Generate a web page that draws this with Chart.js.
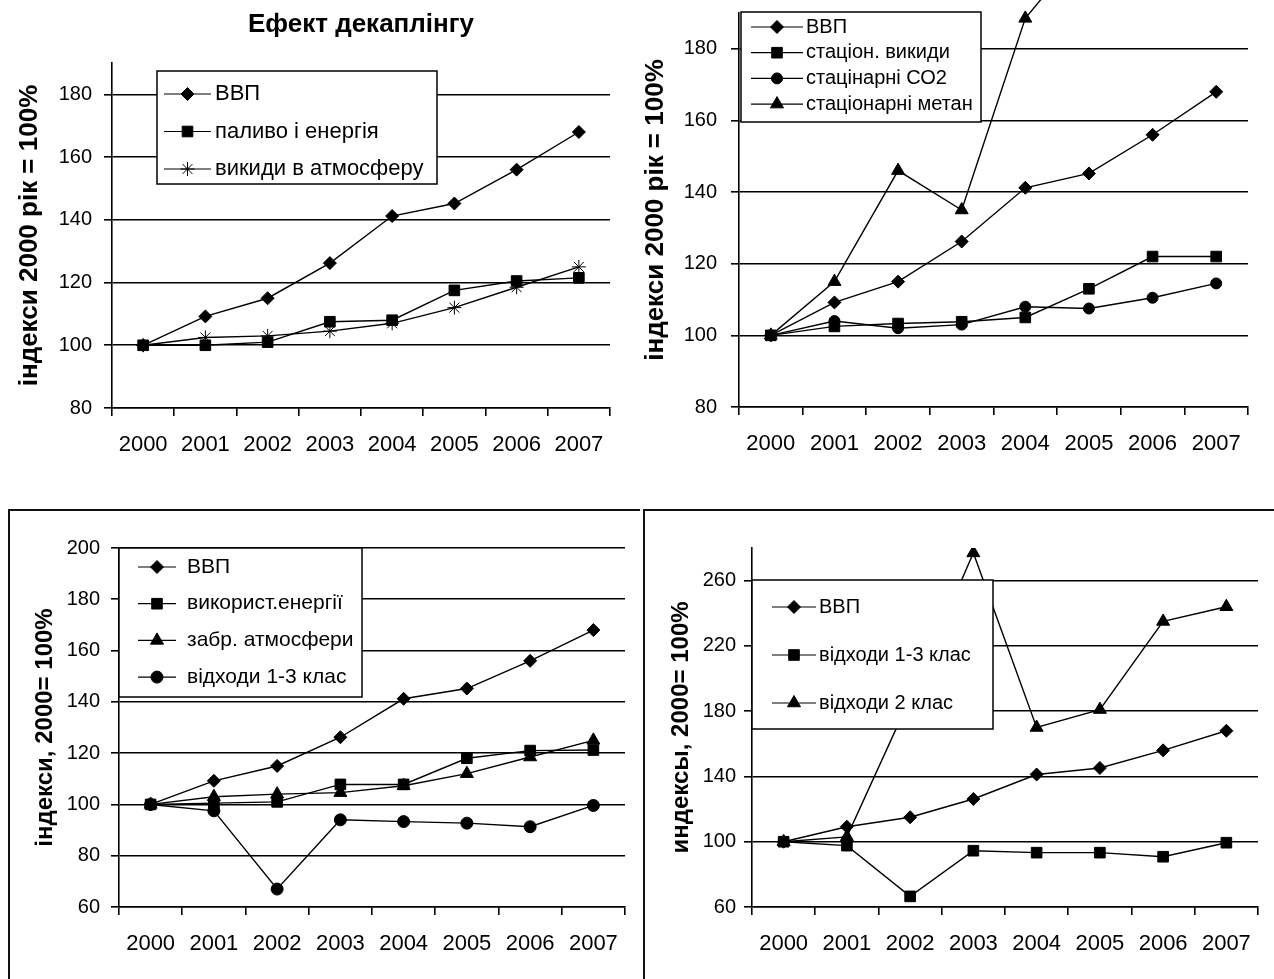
<!DOCTYPE html>
<html>
<head>
<meta charset="utf-8">
<script src="https://cdn.jsdelivr.net/npm/chart.js@4.4.1/dist/chart.umd.min.js"></script>
<style>
  body { margin: 0; background: #fff; width: 1274px; height: 979px; overflow: hidden; position: relative; }
  canvas { position: absolute; }
  .frame { position: absolute; border-top: 2px solid #111; border-left: 2px solid #111; }
</style>
</head>
<body>
<div class="frame" style="left:8px;top:509px;width:630px;height:480px"></div>
<div class="frame" style="left:643px;top:509px;width:640px;height:480px"></div>
<canvas id="c1" width="640" height="480" style="left:0;top:0"></canvas>
<canvas id="c2" width="634" height="480" style="left:640px;top:0"></canvas>
<canvas id="c3" width="640" height="479" style="left:0;top:500px"></canvas>
<canvas id="c4" width="634" height="479" style="left:640px;top:500px"></canvas>
<script>
// роки
const years = ['2000', '2001', '2002', '2003', '2004', '2005', '2006', '2007'];

// поділки осі Y
const yTicksTop = [80, 100, 120, 140, 160, 180];
const yTicks3 = [60, 80, 100, 120, 140, 160, 180, 200];
const yTicks4 = [60, 100, 140, 180, 220, 260];

// ВВП, індекс 2000 = 100
const gdp = [100, 109.2, 115, 126.2, 141.2, 145.2, 156, 168];

// графік 1
const fuelEnergy = [100, 100, 101, 107.5, 108, 117.5, 120.5, 121.5];
const airEmissions = [100, 102.5, 103, 104.5, 107, 112, 118.5, 125];

// графік 2
const statEmissions = [100, 102.5, 103.3, 103.8, 105, 113, 122, 122];
const statCO2 = [100, 104, 102, 103, 108, 107.5, 110.5, 114.5];
const statMethane = [100, 115, 146, 135, 188.5, 210, null, null];

// графік 3
const energyUse = [100, 100.5, 101, 107.8, 107.8, 118, 121, 121.2];
const airPollution = [100, 103, 104, 104.6, 107.3, 112, 118.5, 125];
const waste13 = [100, 97.5, 67, 94, 93.3, 92.7, 91.3, 99.6];

// графік 4
const waste13b = [100, 97.6, 66.5, 94.5, 93.3, 93.3, 90.8, 99.4];
const waste2 = [100, 103, 188, 277, 170, 181, 235, 244];

const FONT = "'Liberation Sans', Arial, sans-serif";
Chart.defaults.font.family = FONT;
Chart.defaults.color = '#000';

// легенда в рамці поверх ліній, як в Excel
const boxLegend = {
    id: 'boxLegend',
    afterDatasetsDraw(chart, args, o) {
        const ctx = chart.ctx;
        ctx.save();
        ctx.fillStyle = '#fff';
        ctx.strokeStyle = '#000';
        ctx.lineWidth = 1.5;
        ctx.fillRect(o.x, o.y, o.w, o.h);
        ctx.strokeRect(o.x, o.y, o.w, o.h);
        ctx.font = o.size + 'px ' + FONT;
        ctx.textBaseline = 'middle';
        chart.data.datasets.forEach((ds, i) => {
            const y = o.first + i * o.step;
            ctx.strokeStyle = '#000';
            ctx.fillStyle = '#000';
            ctx.lineWidth = 1.2;
            ctx.beginPath();
            ctx.moveTo(o.lineFrom, y);
            ctx.lineTo(o.lineTo, y);
            ctx.stroke();
            ctx.lineWidth = 1;
            Chart.helpers.drawPoint(ctx, {
                pointStyle: ds.pointStyle, radius: ds.pointRadius, rotation: 0, borderWidth: 1
            }, (o.lineFrom + o.lineTo) / 2, y);
            ctx.fillText(ds.label, o.textX, y);
        });
        ctx.restore();
    }
};

function series(label, data, style, radius) {
    return {
        label: label,
        data: data,
        borderColor: '#000',
        backgroundColor: '#000',
        borderWidth: 1.4,
        pointStyle: style,
        pointRadius: radius,
        pointBorderWidth: 1,
        pointBackgroundColor: '#000',
        pointBorderColor: '#000',
        tension: 0,
        spanGaps: false
    };
}

function makeChart(id, datasets, cfg) {
    const canvas = document.getElementById(id);
    const H = canvas.height;
    return new Chart(canvas, {
        type: 'line',
        data: { labels: years, datasets: datasets },
        options: {
            responsive: false,
            animation: false,
            layout: { padding: { left: 0, top: cfg.top, right: cfg.right, bottom: 0 } },
            plugins: {
                legend: { display: false },
                tooltip: { enabled: false },
                title: cfg.title ? {
                    display: true,
                    text: cfg.title,
                    fullSize: false,
                    color: '#000',
                    font: { size: 26, weight: 'bold' },
                    padding: { top: 9.4, bottom: 22.4 }
                } : { display: false },
                boxLegend: cfg.legend
            },
            scales: {
                x: {
                    offset: true,
                    grid: { display: true, drawOnChartArea: false, drawTicks: true, tickLength: 8,
                            color: '#000', lineWidth: 1.6, offset: true },
                    border: { display: true, color: '#000', width: 1.6 },
                    ticks: { color: '#000', font: { size: 22 }, padding: 16, maxRotation: 0, autoSkip: false },
                    afterFit: s => {
                        s.height = H - cfg.bottom;
                        s.paddingLeft = 0;
                        s.paddingRight = 0;
                    }
                },
                y: {
                    min: cfg.min,
                    max: cfg.max,
                    afterBuildTicks: s => { s.ticks = cfg.ticks.map(v => ({ value: v })); },
                    ticks: { color: '#000', font: { size: 20 }, padding: cfg.tickPad },
                    grid: { color: '#000', lineWidth: 1.6, tickLength: 8 },
                    border: { display: true, color: '#000', width: 1.6 },
                    title: { display: true, text: cfg.yTitle, color: '#000',
                             font: { size: cfg.yTitleSize, weight: 'bold' }, padding: { top: cfg.titlePad, bottom: 0 } },
                    afterFit: s => {
                        s.width = cfg.left;
                        s.paddingTop = 0;
                        s.paddingBottom = 0;
                    }
                }
            }
        },
        plugins: [boxLegend]
    });
}

makeChart('c1', [
    series('ВВП', gdp, 'rectRot', 6.5),
    series('паливо і енергія', fuelEnergy, 'rect', 7.5),
    series('викиди в атмосферу', airEmissions, 'star', 7)
], {
    title: 'Ефект декаплінгу', top: 0, right: 30, bottom: 408, left: 112,
    min: 80, max: 190, ticks: yTicksTop, tickPad: 12, titlePad: 14, yTitleSize: 26,
    yTitle: 'індекси 2000 рік = 100%',
    legend: { x: 157, y: 71, w: 280, h: 113, first: 94, step: 37.5, lineFrom: 164, lineTo: 211, textX: 215, size: 22 }
});

const c2 = makeChart('c2', [
    series('ВВП', gdp, 'rectRot', 6.5),
    series('стаціон. викиди', statEmissions, 'rect', 7.5),
    series('стацінарні СО2', statCO2, 'circle', 5.5),
    series('стаціонарні метан', statMethane, 'triangle', 7.5)
], {
    top: 13, right: 26, bottom: 407, left: 99,
    min: 80, max: 190, ticks: yTicksTop, tickPad: 14, titlePad: 0, yTitleSize: 26,
    yTitle: 'індекси 2000 рік = 100%',
    legend: { x: 101, y: 12, w: 240, h: 110, first: 27, step: 25.7, lineFrom: 111, lineTo: 163, textX: 166, size: 20 }
});
// лінія метану виходить за верх графіка
c2.data.datasets[3].clip = false;
c2.update();

makeChart('c3', [
    series('ВВП', gdp, 'rectRot', 6.5),
    series('використ.енергії', energyUse, 'rect', 7.5),
    series('забр. атмосфери', airPollution, 'triangle', 7.5),
    series('відходи 1-3 клас', waste13, 'circle', 6)
], {
    top: 48, right: 15, bottom: 407, left: 119,
    min: 60, max: 200, ticks: yTicks3, tickPad: 11, titlePad: 31, yTitleSize: 24,
    yTitle: 'індекси, 2000= 100%',
    legend: { x: 119, y: 48, w: 243, h: 149, first: 67, step: 36.7, lineFrom: 138, lineTo: 176, textX: 187, size: 21 }
});

makeChart('c4', [
    series('ВВП', gdp, 'rectRot', 6.5),
    series('відходи 1-3 клас', waste13b, 'rect', 7.5),
    series('відходи 2 клас', waste2, 'triangle', 7.5)
], {
    top: 48, right: 16, bottom: 407, left: 112,
    min: 60, max: 280, ticks: yTicks4, tickPad: 8, titlePad: 27, yTitleSize: 24,
    yTitle: 'индексы, 2000= 100%',
    legend: { x: 112, y: 80, w: 241, h: 149, first: 107, step: 48, lineFrom: 132, lineTo: 176, textX: 179, size: 20 }
});
</script>
</body>
</html>
